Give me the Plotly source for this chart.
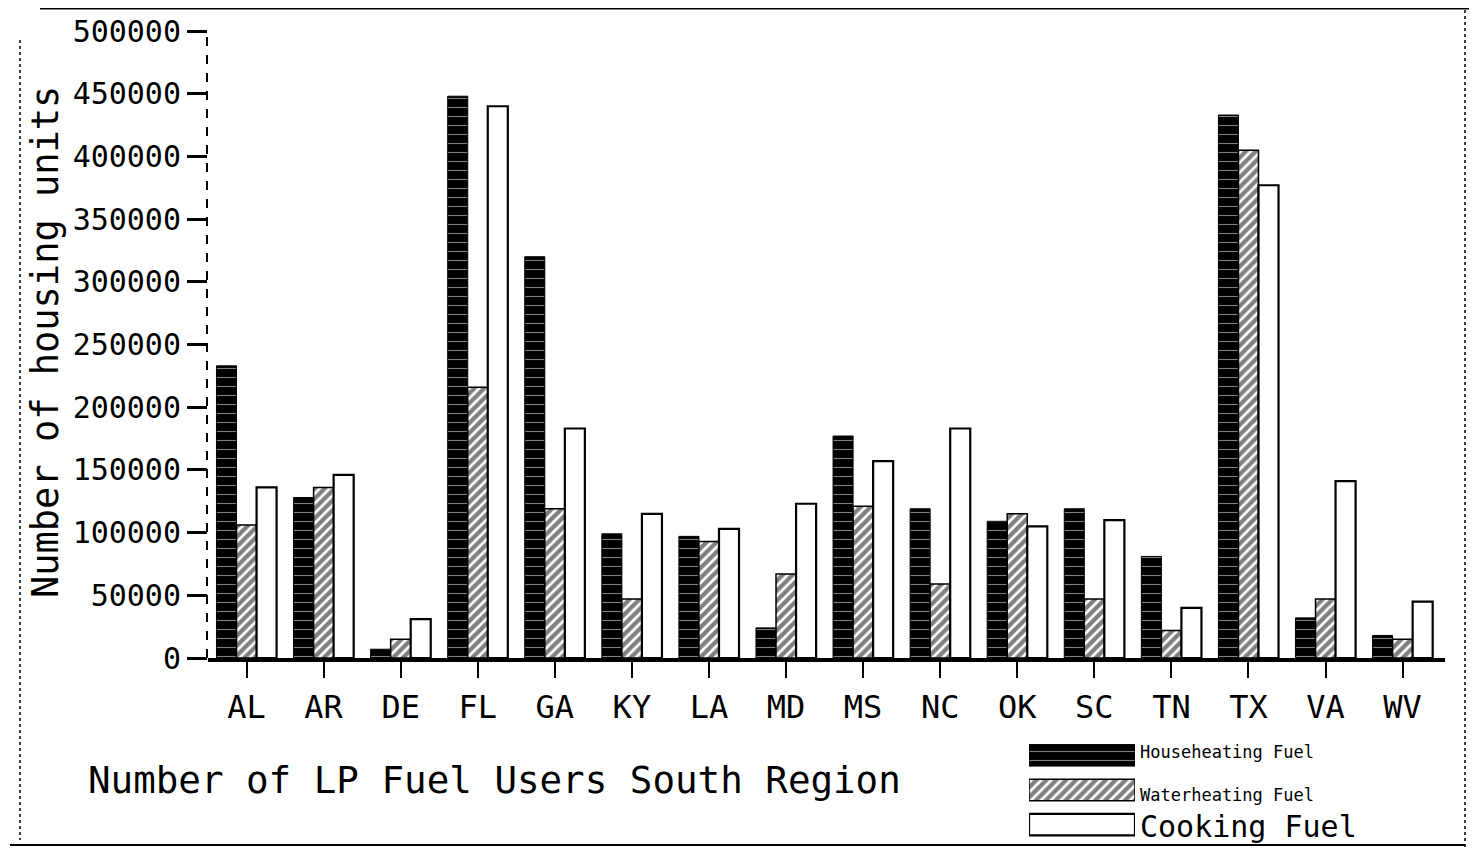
import plotly.graph_objects as go

states = ["AL", "AR", "DE", "FL", "GA", "KY", "LA", "MD", "MS", "NC", "OK", "SC", "TN", "TX", "VA", "WV"]
househeating = [233000, 128000, 7000, 448000, 320000, 99000, 97000, 24000, 177000, 119000, 109000, 119000, 81000, 433000, 32000, 18000]
waterheating = [106000, 136000, 15000, 216000, 119000, 47000, 93000, 67000, 121000, 59000, 115000, 47000, 22000, 405000, 47000, 15000]
cooking = [136000, 146000, 31000, 440000, 183000, 115000, 103000, 123000, 157000, 183000, 105000, 110000, 40000, 377000, 141000, 45000]
y_ticks = [0, 50000, 100000, 150000, 200000, 250000, 300000, 350000, 400000, 450000, 500000]
series_names = ["Househeating Fuel", "Waterheating Fuel", "Cooking Fuel"]
legend_keys = [1, 1, 1]

# the page body has an 8px margin, so the figure is placed at (8, 8) in the window
OFF = 8
W, H = 1477 - OFF, 848 - OFF
def px(x): return (x - OFF) / W
def py(y): return (H - (y - OFF)) / H

MONO = "DejaVu Sans Mono"

heat_style = dict(color="black", line=dict(color="black", width=1),
                  pattern=dict(shape="-", fgcolor="white", bgcolor="black", size=9, solidity=0.12))
water_style = dict(color="white", line=dict(color="black", width=1.5),
                   pattern=dict(shape="/", fgcolor="black", bgcolor="white", size=7, solidity=0.62))
cook_style = dict(color="white", line=dict(color="black", width=2.2))

fig = go.Figure()
fig.add_trace(go.Bar(x=states, y=househeating, name=series_names[0], marker=heat_style))
fig.add_trace(go.Bar(x=states, y=waterheating, name=series_names[1], marker=water_style))
fig.add_trace(go.Bar(x=states, y=cooking, name=series_names[2], marker=cook_style))

# legend key swatches drawn on a small axis pair
for name, val, style in zip(series_names, legend_keys, [heat_style, water_style, cook_style]):
    fig.add_trace(go.Bar(x=[val], y=[name], orientation="h", marker=style,
                         xaxis="x2", yaxis="y3", showlegend=False, width=0.62))

fig.update_layout(
    width=W, height=H,
    margin=dict(l=0, r=0, t=0, b=0),
    paper_bgcolor="white", plot_bgcolor="white",
    showlegend=False,
    barmode="group", bargap=0.22, bargroupgap=0.0,
    font=dict(family=MONO, color="black"),
    xaxis=dict(domain=[px(208), px(1445)], range=[-0.5, 15.55], automargin=False,
               showline=True, linecolor="black", linewidth=4,
               ticks="outside", ticklen=16, tickwidth=2, tickcolor="black",
               tickfont=dict(family=MONO, size=32, color="black"),
               ticklabelstandoff=2, showgrid=False, zeroline=False, anchor="y"),
    yaxis=dict(domain=[py(658), py(31)], range=[0, 500000], automargin=False,
               tickvals=y_ticks, ticktext=[str(v) for v in y_ticks],
               showline=False, ticks="outside", ticklen=20, tickwidth=3, tickcolor="black",
               tickfont=dict(family=MONO, size=30, color="black"),
               showgrid=False, zeroline=False, anchor="x"),
    yaxis2=dict(overlaying="y", range=[0, 500000], tickvals=y_ticks, showticklabels=False,
                ticks="inside", ticklen=20, tickwidth=3, tickcolor="black",
                showgrid=False, zeroline=False, showline=False, anchor="x"),
    xaxis2=dict(domain=[px(1029), px(1135)], range=[0, 1], visible=False, anchor="y3", fixedrange=True),
    yaxis3=dict(domain=[py(842), py(738)], categoryorder="array",
                categoryarray=series_names[::-1], visible=False, anchor="x2"),
)

# y axis dashed line
fig.add_shape(type="line", xref="paper", yref="y", x0=px(207), x1=px(207), y0=0, y1=500000,
              line=dict(color="black", width=2, dash="dash"))
# page border remnants of the scan
fig.add_shape(type="line", xref="paper", yref="paper", x0=px(40), x1=px(1470), y0=py(8), y1=py(8),
              line=dict(color="black", width=3))
fig.add_shape(type="line", xref="paper", yref="paper", x0=px(1465), x1=px(1465), y0=py(10), y1=py(848),
              line=dict(color="black", width=1.5, dash="dot"))
fig.add_shape(type="line", xref="paper", yref="paper", x0=px(10), x1=px(1465), y0=py(845), y1=py(845),
              line=dict(color="black", width=2))
fig.add_shape(type="line", xref="paper", yref="paper", x0=px(20), x1=px(20), y0=py(40), y1=py(840),
              line=dict(color="black", width=1.5, dash="dot"))

fig.add_annotation(text="Number of housing units", xref="paper", yref="paper",
                   x=px(45), y=py(342), textangle=-90, showarrow=False,
                   xanchor="center", yanchor="middle",
                   font=dict(family=MONO, size=37, color="black"))
fig.add_annotation(text="Number of LP Fuel Users South Region", xref="paper", yref="paper",
                   x=px(86), y=py(780), showarrow=False, xanchor="left", yanchor="middle",
                   font=dict(family=MONO, size=37.5, color="black"))
fig.add_annotation(text=series_names[0], xref="paper", yref="paper", x=px(1138), y=py(752),
                   showarrow=False, xanchor="left", yanchor="middle",
                   font=dict(family=MONO, size=17, color="black"))
fig.add_annotation(text=series_names[1], xref="paper", yref="paper", x=px(1138), y=py(795),
                   showarrow=False, xanchor="left", yanchor="middle",
                   font=dict(family=MONO, size=17, color="black"))
fig.add_annotation(text=series_names[2], xref="paper", yref="paper", x=px(1138), y=py(826),
                   showarrow=False, xanchor="left", yanchor="middle",
                   font=dict(family=MONO, size=30, color="black"))

fig.write_html("out.html")
